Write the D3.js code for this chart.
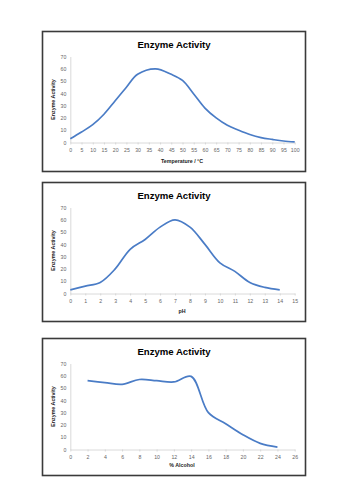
<!DOCTYPE html>
<html><head><meta charset="utf-8">
<script src="https://cdn.jsdelivr.net/npm/d3@7"></script>
<style>
html,body{margin:0;padding:0;background:#fff;}
svg{display:block;}
</style></head>
<body>
<script>
// ---- data ----
const chartTitle = "Enzyme Activity";
const yAxisTitle = "Enzyme Activity";
const yTicks = [0,10,20,30,40,50,60,70];

const tempX = [0,5,10,15,20,25,30,38,45,50,55,60,65,70,75,80,85,90,95,100];
const tempY = [3,8.5,14.5,23,34,45,55.5,60,55.5,50.5,39.5,28,20,14,10,6.5,4,2.5,1.2,0.5];
const tempTicks = [0,5,10,15,20,25,30,35,40,45,50,55,60,65,70,75,80,85,90,95,100];
const tempLabel = "Temperature / °C";

const phX = [0,1,2,3,4,5,6,7,8,9,10,11,12,13,14];
const phY = [3,6,9,20,36,44,54,60,54,40,25,18,9,5,3];
const phTicks = [0,1,2,3,4,5,6,7,8,9,10,11,12,13,14,15];
const phLabel = "pH";

const alcX = [2,4,6,8,10,12,14,16,18,20,22,24];
const alcY = [56,54.5,53,57,56,55,59.5,30,21,12,5,2];
const alcTicks = [0,2,4,6,8,10,12,14,16,18,20,22,24,26];
const alcLabel = "% Alcohol";

const charts = [
  {xs: tempX, ys: tempY, ticks: tempTicks, label: tempLabel, top: 31, h: 140},
  {xs: phX, ys: phY, ticks: phTicks, label: phLabel, top: 182, h: 139},
  {xs: alcX, ys: alcY, ticks: alcTicks, label: alcLabel, top: 338, h: 137}
];

const W = 354, H = 500;
const svg = d3.select("body").append("svg").attr("width", W).attr("height", H);
const font = "'Liberation Sans', Arial, sans-serif";

charts.forEach(c => {
  const g = svg.append("g").attr("transform", `translate(0,${c.top})`);
  // frame
  g.append("rect").attr("x", 42.5).attr("y", 0.5).attr("width", 263).attr("height", c.h)
    .attr("fill", "#fff").attr("stroke", "#3a3a3a").attr("stroke-width", 1.6);

  const x = d3.scaleLinear().domain([c.ticks[0], c.ticks[c.ticks.length-1]]).range([70.3, 294.7]);
  const y = d3.scaleLinear().domain([0,70]).range([111.5, 25.5]);

  // title
  g.append("text").attr("x", 174).attr("y", 13).attr("text-anchor","middle")
    .attr("dominant-baseline","central")
    .attr("font-family", font).attr("font-weight","bold").attr("font-size", 9.6)
    .attr("fill","#000").text(chartTitle);

  // y axis
  const ya = g.append("g").attr("transform","translate(70.3,0)")
    .call(d3.axisLeft(y).tickValues(yTicks).tickSize(0).tickPadding(4));
  ya.select(".domain").attr("stroke","#d0d0d0").attr("stroke-width",0.8);
  ya.selectAll("text").attr("font-family", font).attr("font-size", 5.2).attr("fill","#666");

  // x axis
  const xa = g.append("g").attr("transform",`translate(0,${y(0)})`)
    .call(d3.axisBottom(x).tickValues(c.ticks).tickSize(2).tickSizeOuter(0).tickPadding(3.5));
  xa.select(".domain").attr("stroke","#d0d0d0").attr("stroke-width",0.8);
  xa.selectAll(".tick line").attr("stroke","#d0d0d0").attr("stroke-width",0.8);
  xa.selectAll("text").attr("font-family", font).attr("font-size", 5.2).attr("fill","#666");

  // axis titles
  g.append("text").attr("x", 182).attr("y", c.h - 10.5).attr("text-anchor","middle")
    .attr("dominant-baseline","central")
    .attr("font-family", font).attr("font-weight","bold").attr("font-size", 5.3)
    .attr("fill","#222").text(c.label);
  g.append("text").attr("transform", `translate(53,${(25.5+111.5)/2}) rotate(-90)`)
    .attr("text-anchor","middle").attr("dominant-baseline","central")
    .attr("font-family", font).attr("font-weight","bold").attr("font-size", 5.3)
    .attr("fill","#222").text(yAxisTitle);

  // line
  const pts = c.xs.map((v,i) => [v, c.ys[i]]);
  const line = d3.line().x(d => x(d[0])).y(d => y(d[1])).curve(d3.curveCatmullRom.alpha(0.5));
  g.append("path").datum(pts).attr("d", line).attr("fill","none")
    .attr("stroke","#4a7cc6").attr("stroke-width",1.7).attr("stroke-linejoin","round");
});
</script>
</body></html>
